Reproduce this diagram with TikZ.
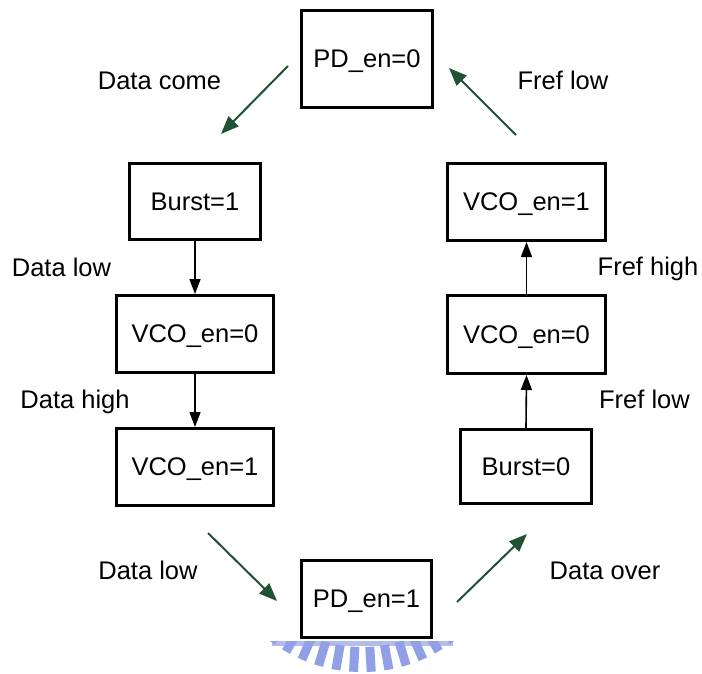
\documentclass[tikz,border=0pt]{standalone}
\usepackage{fontspec}
\setmainfont{Liberation Sans}
\usetikzlibrary{arrows.meta}
\definecolor{arrgreen}{RGB}{30,82,50}
\definecolor{wmblue}{RGB}{145,160,230}
\tikzset{
  statebox/.style={draw=black, line width=3pt, rectangle, inner sep=0pt, align=center, fill=white, text depth=0pt},
  lbl/.style={inner sep=0pt, anchor=base},
  blackarrow/.style={draw=black, line width=1.6pt, -{Triangle[length=15pt,width=11pt]}},
  greenarrow/.style={draw=arrgreen, line width=2pt, -{Triangle[length=18pt,width=14pt]}},
}
\begin{document}
\begin{tikzpicture}[x=1pt,y=-1pt,font=\fontsize{25.5}{30}\selectfont]
\useasboundingbox (0,0) rectangle (702,673);
\fill[white] (0,0) rectangle (702,673);

% watermark
\begin{scope}
  \clip (262,641) rectangle (470,673);
  \fill[wmblue!70] (272,641) rectangle (453,646);
  \foreach \a in {-127,-120.3,...,-52} {
    \draw[wmblue, line width=9pt] (362,520) ++(\a:-127) -- ++(\a:-25);
  }
\end{scope}

% states
\node[statebox, minimum width=131pt, minimum height=97pt] (pd0) at (367,59) {PD\_en=0};
\node[statebox, minimum width=131pt, minimum height=76pt] (b1) at (195,201.5) {Burst=1};
\node[statebox, minimum width=157pt, minimum height=77pt] (v0l) at (195,334) {VCO\_en=0};
\node[statebox, minimum width=157pt, minimum height=77pt] (v1l) at (195,467) {VCO\_en=1};
\node[statebox, minimum width=158pt, minimum height=77pt] (v1r) at (526.5,202) {VCO\_en=1};
\node[statebox, minimum width=158pt, minimum height=78pt] (v0r) at (526.5,334.5) {VCO\_en=0};
\node[statebox, minimum width=131pt, minimum height=74pt] (b0) at (526,466.5) {Burst=0};
\node[statebox, minimum width=130pt, minimum height=77pt] (pd1) at (366.5,599) {PD\_en=1};

% labels (placed by baseline)
\node[lbl] (l1) at (159.5,89) {Data come};
\node[lbl] (l2) at (563,89) {Fref low};
\node[lbl] (l3) at (61.5,276) {Data low};
\node[lbl] (l4) at (75,408) {Data high};
\node[lbl] (l5) at (648,275) {Fref high};
\node[lbl] (l6) at (644.5,408) {Fref low};
\node[lbl] (l7) at (148,579) {Data low};
\node[lbl] (l8) at (605,579) {Data over};

% black arrows
\draw[blackarrow] (b1.south) -- (v0l.north);
\draw[blackarrow] (v0l.south) -- (v1l.north);
\draw[blackarrow] (b0.north) -- (v0r.south);
\draw[blackarrow] (v0r.north) -- (v1r.south);

% green arrows
\coordinate (g1s) at (288,66);  \coordinate (g1e) at (221,134);
\coordinate (g2s) at (516,135); \coordinate (g2e) at (449,68);
\coordinate (g3s) at (208,533); \coordinate (g3e) at (277,601);
\coordinate (g4s) at (457,602); \coordinate (g4e) at (527,534);
\draw[greenarrow] (g1s) -- (g1e);
\draw[greenarrow] (g2s) -- (g2e);
\draw[greenarrow] (g3s) -- (g3e);
\draw[greenarrow] (g4s) -- (g4e);
\end{tikzpicture}
\end{document}
